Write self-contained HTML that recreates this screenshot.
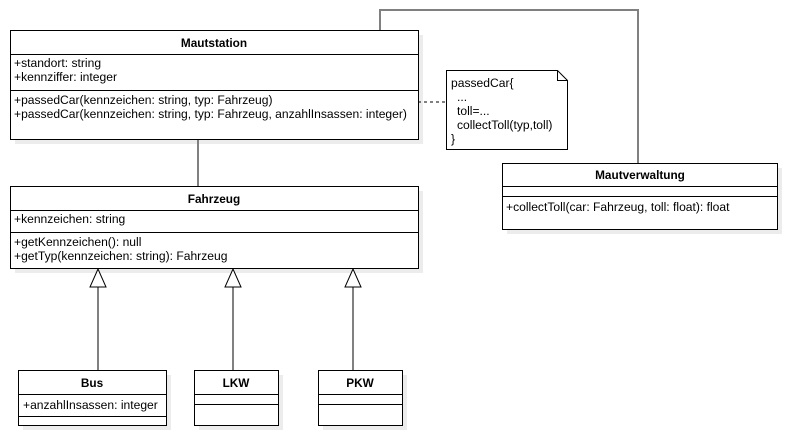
<!DOCTYPE html>
<html><head><meta charset="utf-8"><style>
html,body{margin:0;padding:0;background:#fff;}
svg{display:block;}
text{font-family:"Liberation Sans",sans-serif;font-size:12.1px;fill:#000;}
.b{font-weight:bold;font-size:11.8px;}
</style></head><body>
<svg width="787" height="436" viewBox="0 0 787 436" xmlns="http://www.w3.org/2000/svg">
<g fill="#ececec">
<rect x="15" y="35" width="408" height="109"/>
<rect x="15" y="191" width="408" height="82"/>
<rect x="507" y="168" width="275" height="66"/>
<rect x="23" y="375" width="148" height="55"/>
<rect x="199" y="375" width="84" height="55"/>
<rect x="323" y="375" width="84" height="55"/>
</g>
<g stroke="#808080" stroke-width="2" fill="none">
<line x1="198" y1="139" x2="198" y2="186"/>
<polyline points="380,30 380,10 638,10 638,163"/>
<line x1="98" y1="287" x2="98" y2="370"/>
<line x1="233" y1="287" x2="233" y2="370"/>
<line x1="353" y1="287" x2="353" y2="370"/>
</g>
<g stroke="#000" stroke-width="1" fill="#fff">
<polygon points="98,269 90,287 106,287"/>
<polygon points="233,269 225,287 241,287"/>
<polygon points="353,269 345,287 361,287"/>
</g>
<line x1="418" y1="102" x2="446" y2="102" stroke="#000" stroke-dasharray="3,3"/>
<g stroke="#000" stroke-width="1" fill="#fff" shape-rendering="crispEdges">
<rect x="10.5" y="30.5" width="408" height="109"/>
<line x1="10" y1="54.5" x2="418" y2="54.5"/>
<line x1="10" y1="90.5" x2="418" y2="90.5"/>
<rect x="10.5" y="186.5" width="408" height="82"/>
<line x1="10" y1="210.5" x2="418" y2="210.5"/>
<line x1="10" y1="232.5" x2="418" y2="232.5"/>
<rect x="502.5" y="163.5" width="275" height="66"/>
<line x1="502" y1="186.5" x2="777" y2="186.5"/>
<line x1="502" y1="196.5" x2="777" y2="196.5"/>
<rect x="18.5" y="370.5" width="148" height="55"/>
<line x1="18" y1="394.5" x2="166" y2="394.5"/>
<line x1="18" y1="416.5" x2="166" y2="416.5"/>
<rect x="194.5" y="370.5" width="84" height="55"/>
<line x1="194" y1="394.5" x2="278" y2="394.5"/>
<line x1="194" y1="404.5" x2="278" y2="404.5"/>
<rect x="318.5" y="370.5" width="84" height="55"/>
<line x1="318" y1="394.5" x2="402" y2="394.5"/>
<line x1="318" y1="404.5" x2="402" y2="404.5"/>
</g>
<path d="M446.5,70.5 H557.5 L567.5,80.5 V149.5 H446.5 Z M557.5,70.5 V80.5 H567.5" stroke="#000" fill="#fff"/>
<text class="b" x="214" y="47" text-anchor="middle">Mautstation</text>
<text x="14" y="67">+standort: string</text>
<text x="14" y="81">+kennziffer: integer</text>
<text x="14" y="104">+passedCar(kennzeichen: string, typ: Fahrzeug)</text>
<text x="14" y="118">+passedCar(kennzeichen: string, typ: Fahrzeug, anzahlInsassen: integer)</text>
<text class="b" x="214" y="203" text-anchor="middle">Fahrzeug</text>
<text x="14" y="223">+kennzeichen: string</text>
<text x="14" y="246">+getKennzeichen(): null</text>
<text x="14" y="260">+getTyp(kennzeichen: string): Fahrzeug</text>
<text class="b" x="640" y="179" text-anchor="middle">Mautverwaltung</text>
<text x="506" y="211">+collectToll(car: Fahrzeug, toll: float): float</text>
<text x="451" y="87">passedCar{</text>
<text x="457" y="101">...</text>
<text x="457" y="115">toll=...</text>
<text x="457" y="129">collectToll(typ,toll)</text>
<text x="451" y="143">}</text>
<text class="b" x="92" y="387" text-anchor="middle">Bus</text>
<text x="23" y="409">+anzahlInsassen: integer</text>
<text class="b" x="236" y="387" text-anchor="middle">LKW</text>
<text class="b" x="360" y="387" text-anchor="middle">PKW</text>
</svg>
</body></html>
